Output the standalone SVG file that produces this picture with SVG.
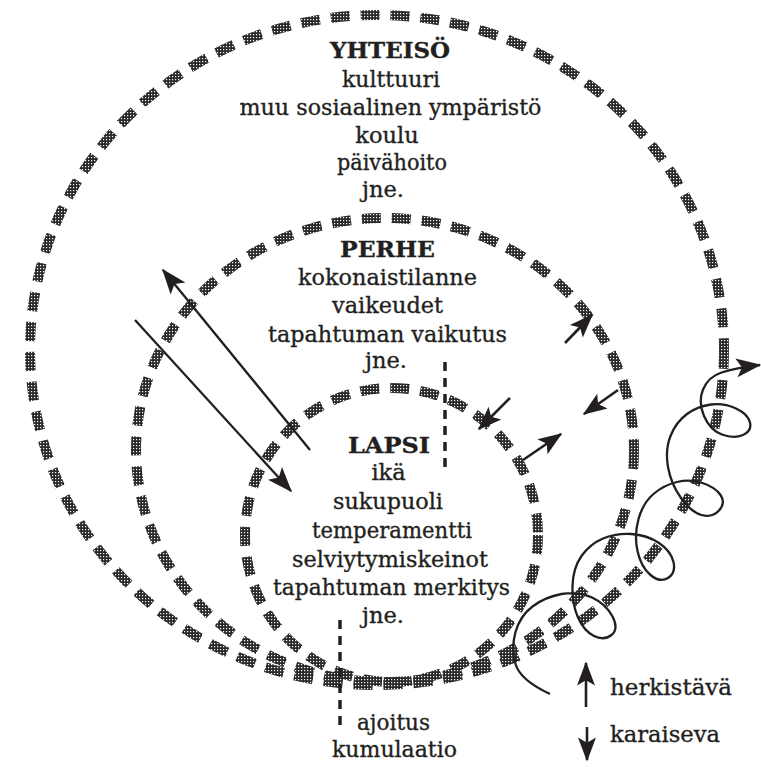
<svg xmlns="http://www.w3.org/2000/svg" width="761" height="767" viewBox="0 0 761 767">
<defs>
<pattern id="stipple" width="3" height="3" patternUnits="userSpaceOnUse">
<rect width="3" height="3" fill="#2a2a2a"/>
<rect x="1" y="1" width="1.2" height="1.2" fill="#ffffff"/>
</pattern>
<marker id="ah" viewBox="0 0 16 12" refX="15" refY="6" markerWidth="26" markerHeight="19" orient="auto" markerUnits="userSpaceOnUse" overflow="visible">
<path d="M0,0 L16,6 L0,12 L3.5,6 z" fill="#231f20"/>
</marker>
<marker id="ahs" viewBox="0 0 16 12" refX="15" refY="6" markerWidth="24" markerHeight="18" orient="auto" markerUnits="userSpaceOnUse" overflow="visible">
<path d="M0,0 L16,6 L0,12 L3.5,6 z" fill="#231f20"/>
</marker>
</defs>
<style>
.ring{fill:none;stroke:url(#stipple);stroke-width:10;stroke-dasharray:19 11}
.t{font-family:"DejaVu Serif","Liberation Serif",serif;font-size:22.5px;fill:#231f20;stroke:#231f20;stroke-width:0.35;text-anchor:middle}
.h{font-weight:bold}
.lg{font-family:"DejaVu Serif","Liberation Serif",serif;font-size:22.5px;fill:#231f20;stroke:#231f20;stroke-width:0.35}
.arr{fill:none;stroke:#231f20;stroke-width:2.3;marker-end:url(#ah)}
.arrs{fill:none;stroke:#231f20;stroke-width:2.6;marker-end:url(#ahs)}
.vd{fill:none;stroke:#231f20;stroke-width:3.5;stroke-dasharray:9 7}
</style>
<rect width="761" height="767" fill="#ffffff"/>

<g id="yhteiso">
<ellipse class="ring" cx="377" cy="350" rx="347" ry="335"/>
<text class="t h" x="390" y="58" textLength="120" lengthAdjust="spacingAndGlyphs">YHTEISÖ</text>
<text class="t" x="391" y="87" textLength="98" lengthAdjust="spacingAndGlyphs">kulttuuri</text>
<text class="t" x="390.5" y="115" textLength="302" lengthAdjust="spacingAndGlyphs">muu sosiaalinen ympäristö</text>
<text class="t" x="387" y="143">koulu</text>
<text class="t" x="392" y="170" textLength="110" lengthAdjust="spacingAndGlyphs">päivähoito</text>
<text class="t" x="383" y="197">jne.</text>
</g>

<g id="perhe">
<ellipse class="ring" cx="385" cy="450" rx="249" ry="232"/>
<text class="t h" x="387.5" y="257" textLength="95" lengthAdjust="spacingAndGlyphs">PERHE</text>
<text class="t" x="387.5" y="285" textLength="179" lengthAdjust="spacingAndGlyphs">kokonaistilanne</text>
<text class="t" x="387.5" y="313" textLength="111" lengthAdjust="spacingAndGlyphs">vaikeudet</text>
<text class="t" x="387.5" y="342" textLength="239" lengthAdjust="spacingAndGlyphs">tapahtuman vaikutus</text>
<text class="t" x="386" y="368">jne.</text>
</g>

<g id="lapsi">
<ellipse class="ring" cx="391.5" cy="535" rx="146.5" ry="147"/>
<text class="t h" x="389" y="453" textLength="82" lengthAdjust="spacingAndGlyphs">LAPSI</text>
<text class="t" x="388.5" y="480">ikä</text>
<text class="t" x="388" y="509" textLength="110" lengthAdjust="spacingAndGlyphs">sukupuoli</text>
<text class="t" x="392" y="538" textLength="160" lengthAdjust="spacingAndGlyphs">temperamentti</text>
<text class="t" x="390" y="567" textLength="196" lengthAdjust="spacingAndGlyphs">selviytymiskeinot</text>
<text class="t" x="391.5" y="595" textLength="237" lengthAdjust="spacingAndGlyphs">tapahtuman merkitys</text>
<text class="t" x="383" y="623">jne.</text>
</g>

<g id="aika">
<text class="t" x="393.5" y="730" textLength="73" lengthAdjust="spacingAndGlyphs">ajoitus</text>
<text class="t" x="394.5" y="757" textLength="125" lengthAdjust="spacingAndGlyphs">kumulaatio</text>
</g>

<g id="connectors">
<line class="arr" x1="310" y1="450" x2="163" y2="270"/>
<line class="arr" x1="135" y1="320" x2="291" y2="491"/>
<line class="arrs" x1="565" y1="343" x2="592" y2="315"/>
<line class="arrs" x1="618" y1="390" x2="584" y2="414"/>
<line class="arrs" x1="510" y1="398" x2="479" y2="429"/>
<line class="arrs" x1="523" y1="460" x2="561" y2="434"/>
<line class="vd" x1="445" y1="362" x2="445" y2="473"/>
<line class="vd" x1="340" y1="620" x2="340" y2="731"/>
<path class="arr" d="M550,694 Q520,680 515.5,664 Q511,648 515.5,632 Q520,616 532.5,606.5 Q545,597 561.5,594 Q578,591 592,597.5 Q606,604 612.5,616.5 Q619,629 611.5,635 Q604,641 594,636 Q584,631 578,617.5 Q572,604 572.5,586 Q573,568 581.5,556 Q590,544 603,538.5 Q616,533 631.5,534 Q647,535 659,543 Q671,551 673.5,562 Q676,573 668,578 Q660,583 650.5,575 Q641,567 637.5,551 Q634,535 638.5,519 Q643,503 653.5,494 Q664,485 677,482 Q690,479 702.5,483 Q715,487 720.5,495 Q726,503 719,510.5 Q712,518 701.5,515 Q691,512 681,498 Q671,484 668,467 Q665,450 670.5,436 Q676,422 687,414 Q698,406 711,404.5 Q724,403 736,408.5 Q748,414 750,422.5 Q752,431 743,435 Q734,439 722,434.5 Q710,430 704,416 Q698,402 703,389.5 Q708,377 721.5,372.5 Q735,368 760,365"/>
</g>

<g id="legend">
<line class="arrs" x1="586" y1="707" x2="586" y2="663"/>
<text class="lg" x="610" y="695" textLength="122" lengthAdjust="spacingAndGlyphs">herkistävä</text>
<line class="arrs" x1="587" y1="727" x2="587" y2="760"/>
<text class="lg" x="610" y="742" textLength="110" lengthAdjust="spacingAndGlyphs">karaiseva</text>
</g>
</svg>
